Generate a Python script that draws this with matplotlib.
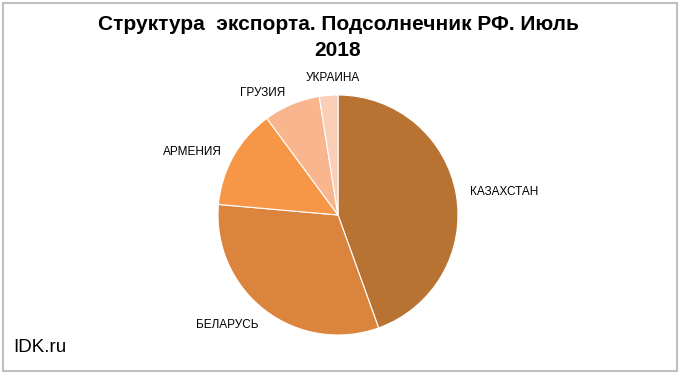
import numpy as np
import matplotlib
matplotlib.use('Agg')
import matplotlib.pyplot as plt
from matplotlib.patches import Rectangle

plt.rcParams['font.family'] = ['Liberation Sans', 'DejaVu Sans']

countries = ['КАЗАХСТАН', 'БЕЛАРУСЬ', 'АРМЕНИЯ', 'ГРУЗИЯ', 'УКРАИНА']
shares = [44.5, 31.9, 13.5, 7.6, 2.5]
colors = ['#B87333', '#DB843D', '#F79646', '#F9B58E', '#FBCEB8']
label_dist = [1.40, 1.30, 1.32, 1.19, 1.14]
label_shift = [-2, -7.4, 6, 9, -2.4]  # degrees, nudge label angle

fig = plt.figure(figsize=(6.8, 3.74), dpi=100)
fig.patches.append(Rectangle((0.004, 0.008), 0.991, 0.985, transform=fig.transFigure,
                             fill=False, edgecolor='#BFBFBF', linewidth=1.5))

fig.text(0.497, 0.90, 'Структура  экспорта. Подсолнечник РФ. Июль\n2018',
         ha='center', va='center', fontsize=15, fontweight='bold', linespacing=1.45)

ax = fig.add_axes([338/680 - 120/680, (374-215)/374 - 120/374, 240/680, 240/374])
wedges, texts = ax.pie(shares, colors=colors, startangle=90, counterclock=False,
                       labels=countries, labeldistance=1.3,
                       wedgeprops=dict(edgecolor='white', linewidth=0.8),
                       textprops=dict(fontsize=8.5))
for w, t, d, s in zip(wedges, texts, label_dist, label_shift):
    ang = np.deg2rad((w.theta1 + w.theta2) / 2 + s)
    t.set_position((d * np.cos(ang), d * np.sin(ang)))
    t.set_ha('center')
    t.set_va('center')
ax.set_xlim(-1, 1)
ax.set_ylim(-1, 1)
ax.set_aspect('equal')

fig.text(0.019, 0.058, 'IDK.ru', fontsize=13.5, ha='left', va='baseline')

fig.savefig('out.png', dpi=100)
